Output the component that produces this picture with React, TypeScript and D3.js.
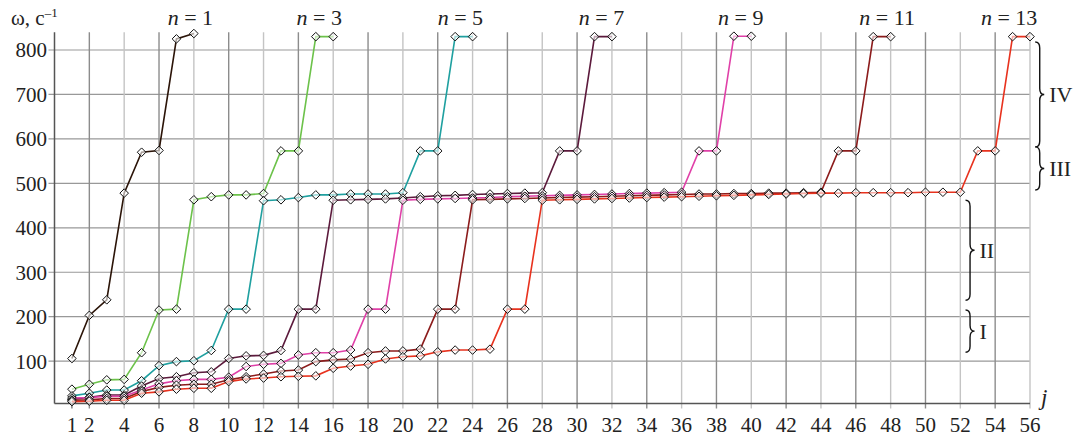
import React from 'react'
import * as d3 from 'd3'

// omega(j) for each n, j = 1..4(n+1)
const n1 = [106, 203, 238, 478, 570, 574, 825, 837]
const n3 = [37, 48, 58, 59, 119, 215, 217, 463, 470, 474, 474, 477, 573, 573, 830, 830]
const n5 = [
  22, 28, 35, 35, 56, 90, 99, 101, 124, 217, 217, 461, 463, 468, 474, 474, 476, 476, 476, 479,
  573, 573, 830, 830,
]
const n7 = [
  14, 19, 24, 24, 44, 61, 65, 74, 76, 106, 112, 113, 124, 217, 217, 462, 463, 464, 465, 467, 470,
  472, 473, 475, 476, 477, 478, 479, 573, 573, 830, 830,
]
const n9 = [
  17, 18, 21, 21, 35, 49, 56, 59, 59, 64, 88, 93, 95, 114, 119, 119, 125, 217, 217, 462, 464, 465,
  466, 467, 468, 470, 471, 472, 473, 474, 475, 476, 477, 478, 479, 480, 573, 573, 831, 831,
]
const n11 = [
  12, 13, 16, 16, 32, 41, 46, 48, 48, 58, 65, 71, 78, 80, 99, 103, 105, 119, 123, 123, 127, 217,
  217, 463, 464, 465, 466, 467, 468, 469, 470, 471, 472, 473, 474, 475, 476, 476, 477, 477, 478,
  478, 479, 480, 573, 573, 830, 830,
]
const n13 = [
  9, 10, 12, 12, 28, 31, 37, 39, 39, 54, 60, 62, 65, 66, 67, 84, 89, 93, 105, 110, 112, 121, 125,
  125, 127, 217, 217, 462, 463, 464, 465, 466, 467, 468, 469, 470, 471, 472, 473, 474, 475, 476,
  477, 478, 478, 479, 479, 479, 479, 480, 480, 480, 573, 573, 830, 830,
]

const seriesNames = ['1', '3', '5', '7', '9', '11', '13']
const seriesValues = [n1, n3, n5, n7, n9, n11, n13]
const seriesColors = ['#2b1408', '#6cc24a', '#1fa0a0', '#5c1a3c', '#e040a8', '#8c1c1c', '#e8321e']
// where the "n = .." captions sit along j
const captionJ = [7.8, 15.2, 23.3, 31.4, 39.4, 47.8, 54.8]

const xTicks = [1, 2, 4, 6, 8, 10, 12, 14, 16, 18, 20, 22, 24, 26, 28, 30, 32, 34, 36, 38, 40, 42, 44, 46, 48, 50, 52, 54, 56]
const yTicks = [100, 200, 300, 400, 500, 600, 700, 800]

// zones on the right, in data units
const zoneLabels = ['IV', 'III', 'II', 'I']
const zoneTop = [818, 582, 462, 215]
const zoneBottom = [582, 485, 237, 120]
const zoneJ = [56.3, 56.3, 52.3, 52.3]

const W = 1077
const H = 438
const font = "'Liberation Serif', 'Times New Roman', 'DejaVu Serif', serif"

// "}" shaped brace between y1 and y2
function bracePath(x: number, y1: number, y2: number, w: number) {
  const ym = (y1 + y2) / 2
  const q = Math.min(6, (y2 - y1) / 6)
  const xm = x + w / 2
  return (
    `M${x},${y1} Q${xm},${y1} ${xm},${y1 + q} L${xm},${ym - q} Q${xm},${ym} ${x + w},${ym}` +
    ` Q${xm},${ym} ${xm},${ym + q} L${xm},${y2 - q} Q${xm},${y2} ${x},${y2}`
  )
}

export default function App() {
  const x = d3.scaleLinear().domain([0, 56]).range([54.5, 1030])
  const y = d3.scaleLinear().domain([5, 840]).range([403.4, 32.2])
  const top = y(840)
  const bottom = y(5)

  const line = d3
    .line<number>()
    .x((d, i) => x(i + 1))
    .y((d) => y(d))

  const gridJ = d3.range(2, 57, 2)
  const txt = { fontFamily: font }

  return (
    <svg width={W} height={H} style={{ position: 'absolute', left: 0, top: 0, background: '#fff', fontFamily: font }}>
      {/* grid */}
      {yTicks.map((t) => (
        <line key={'gy' + t} x1={x(0) - 6} x2={x(56)} y1={y(t)} y2={y(t)} stroke="#999" strokeWidth={1.2} />
      ))}
      {gridJ.map((j) => (
        <line
          key={'gx' + j}
          x1={x(j)}
          x2={x(j)}
          y1={top}
          y2={bottom + 5}
          stroke={j % 4 === 0 ? '#c4c4c4' : '#8c8c8c'}
          strokeWidth={1.4}
        />
      ))}
      <line x1={x(1)} x2={x(1)} y1={bottom} y2={bottom + 5} stroke="#666" strokeWidth={1.2} />

      {/* axes */}
      <line x1={x(0)} x2={x(0)} y1={top} y2={bottom} stroke="#555" strokeWidth={1.5} />
      <line x1={x(0)} x2={x(56)} y1={bottom} y2={bottom} stroke="#555" strokeWidth={1.5} />

      {yTicks.map((t) => (
        <text key={'ty' + t} x={47} y={y(t)} dy="0.35em" textAnchor="end" fontSize={21} fill="#222" style={txt}>
          {t}
        </text>
      ))}
      {xTicks.map((t) => (
        <text key={'tx' + t} x={x(t)} y={432} textAnchor="middle" fontSize={21} fill="#222" style={txt}>
          {t}
        </text>
      ))}
      <text x={1041} y={405} fontSize={23} fontStyle="italic" fill="#222" style={txt}>
        j
      </text>
      <text x={11} y={25} fontSize={21} fill="#222" style={txt}>
        ω, c
        <tspan fontSize={13} dy={-8}>
          –1
        </tspan>
      </text>

      {/* series */}
      {seriesValues.map((vals, s) => (
        <g key={'s' + s}>
          <path d={line(vals) || ''} fill="none" stroke={seriesColors[s]} strokeWidth={1.6} />
          {vals.map((v, i) => {
            const cx = x(i + 1)
            const cy = y(v)
            const r = 4.3
            return (
              <path
                key={i}
                d={`M${cx},${cy - r} L${cx + r},${cy} L${cx},${cy + r} L${cx - r},${cy} Z`}
                fill="#fff"
                fillOpacity={0.6}
                stroke="#111"
                strokeWidth={1}
              />
            )
          })}
        </g>
      ))}

      {/* n captions */}
      {seriesNames.map((n, s) => (
        <text key={'n' + n} x={x(captionJ[s])} y={25} textAnchor="middle" fontSize={22} fill="#222" style={txt}>
          <tspan fontStyle="italic">n</tspan> = {n}
        </text>
      ))}

      {/* zone braces */}
      {zoneLabels.map((lab, k) => {
        const bx = x(zoneJ[k])
        const y1 = y(zoneTop[k])
        const y2 = y(zoneBottom[k])
        return (
          <g key={'z' + lab}>
            <path d={bracePath(bx, y1, y2, 9)} fill="none" stroke="#111" strokeWidth={1.4} />
            <text x={bx + 14} y={(y1 + y2) / 2} dy="0.35em" fontSize={22} fill="#222" style={txt}>
              {lab}
            </text>
          </g>
        )
      })}
    </svg>
  )
}
